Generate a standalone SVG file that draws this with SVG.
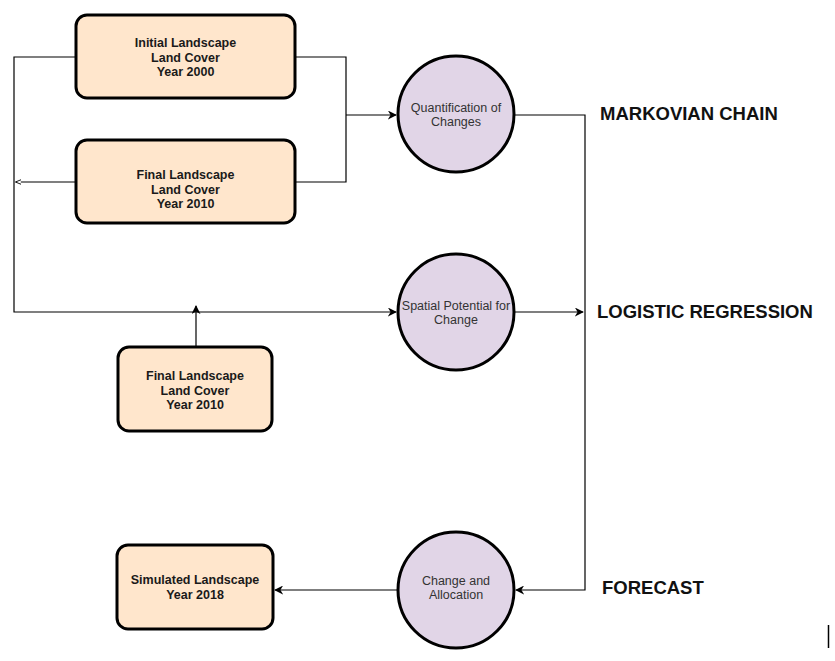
<svg xmlns="http://www.w3.org/2000/svg" width="835" height="661" viewBox="0 0 835 661">
<defs>
<marker id="arr" viewBox="0 0 10 10" refX="9" refY="5" markerWidth="9" markerHeight="9" markerUnits="userSpaceOnUse" orient="auto">
<path d="M0,0 L10,5 L0,10 L3,5 Z" fill="#000"/>
</marker>
<marker id="small" viewBox="0 0 10 10" refX="9" refY="5" markerWidth="6" markerHeight="6" markerUnits="userSpaceOnUse" orient="auto">
<path d="M0,1 L10,5 L0,9 Z" fill="#fff" stroke="#000" stroke-width="1.5"/>
</marker>
<style>
.box{fill:#FFE6CC;stroke:#000;stroke-width:3}
.circ{fill:#E1D5E7;stroke:#000;stroke-width:3}
.bt{font-family:"Liberation Sans",Arial,sans-serif;font-size:12.5px;font-weight:bold;fill:#1a1a1a;text-anchor:middle}
.ct{font-family:"Liberation Sans",Arial,sans-serif;font-size:12.5px;fill:#333;text-anchor:middle}
.lbl{font-family:"Liberation Sans",Arial,sans-serif;font-size:18.5px;font-weight:bold;fill:#111}
.c{fill:none;stroke:#000;stroke-width:1.2}
</style>
</defs>
<rect width="835" height="661" fill="#fff"/>
<g id="connectors">
<path class="c" d="M76,57 H14 V312 H396" marker-end="url(#arr)"/>
<path class="c" d="M76,182 H16" marker-end="url(#small)"/>
<path class="c" d="M295,57 H346 V182 H295"/>
<path class="c" d="M346,115 H396" marker-end="url(#arr)"/>
<path class="c" d="M196,347 V306" marker-end="url(#arr)"/>
<path class="c" d="M514,115 H585 V590 H516" marker-end="url(#arr)"/>
<path class="c" d="M514,312 H583" marker-end="url(#arr)"/>
<path class="c" d="M398,590 H275" marker-end="url(#arr)"/>
</g>
<g id="n1"><rect class="box" x="76" y="15" width="219" height="83" rx="11"/>
<text class="bt" x="185.5" y="47">Initial Landscape</text><text class="bt" x="185.5" y="62">Land Cover</text><text class="bt" x="185.5" y="76">Year 2000</text></g>
<g id="n2"><rect class="box" x="76" y="140" width="219" height="83" rx="11"/>
<text class="bt" x="185.5" y="179">Final Landscape</text><text class="bt" x="185.5" y="194">Land Cover</text><text class="bt" x="185.5" y="208">Year 2010</text></g>
<g id="n3"><rect class="box" x="118" y="347" width="154" height="84" rx="11"/>
<text class="bt" x="195" y="380">Final Landscape</text><text class="bt" x="195" y="395">Land Cover</text><text class="bt" x="195" y="409">Year 2010</text></g>
<g id="n4"><rect class="box" x="117" y="545" width="156" height="84" rx="11"/>
<text class="bt" x="195" y="584">Simulated Landscape</text><text class="bt" x="195" y="599">Year 2018</text></g>
<g id="c1"><circle class="circ" cx="456" cy="114" r="58"/>
<text class="ct" x="456" y="112">Quantification of</text><text class="ct" x="456" y="126">Changes</text></g>
<g id="c2"><circle class="circ" cx="456" cy="312" r="58"/>
<text class="ct" x="456" y="310">Spatial Potential for</text><text class="ct" x="456" y="324">Change</text></g>
<g id="c3"><circle class="circ" cx="456" cy="590" r="58"/>
<text class="ct" x="456" y="585">Change and</text><text class="ct" x="456" y="599">Allocation</text></g>
<g id="labels">
<text class="lbl" x="600" y="120">MARKOVIAN CHAIN</text>
<text class="lbl" x="597" y="318">LOGISTIC REGRESSION</text>
<text class="lbl" x="602" y="594">FORECAST</text>
</g>
<line x1="828.5" y1="625" x2="828.5" y2="648" stroke="#000" stroke-width="1.5"/>
</svg>
